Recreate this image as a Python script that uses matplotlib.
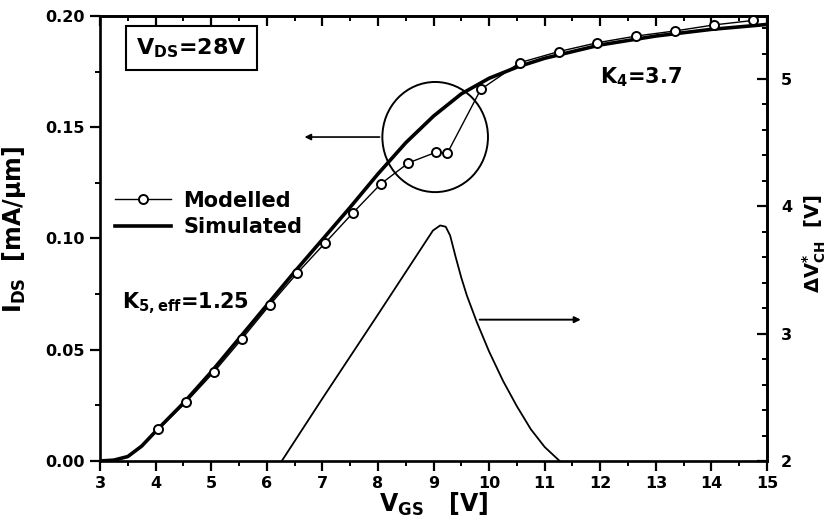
import numpy as np
import matplotlib
matplotlib.use("Agg")
import matplotlib.pyplot as plt
from matplotlib.patches import Ellipse
from matplotlib.ticker import MultipleLocator

plt.rcParams['font.family'] = ['DejaVu Sans']
plt.rcParams['font.weight'] = 'bold'
plt.rcParams['mathtext.fontset'] = 'dejavusans'
plt.rcParams['mathtext.default'] = 'bf'


# Simulated drain current (thick line)
vgs_sim = [3.0, 3.25, 3.5, 3.75, 4.0, 4.5, 5.0, 5.5, 6.0, 6.5, 7.0, 7.5, 8.0,
           8.5, 9.0, 9.5, 10.0, 10.5, 11.0, 11.5, 12.0, 13.0, 14.0, 15.0]
ids_sim = [0.0, 0.0004, 0.002, 0.0067, 0.0133, 0.026, 0.040, 0.055, 0.070,
           0.085, 0.0995, 0.114, 0.129, 0.143, 0.155, 0.165, 0.172, 0.177,
           0.181, 0.184, 0.187, 0.191, 0.194, 0.1962]

# Modelled drain current (open circles)
vgs_mod = [4.05, 4.55, 5.05, 5.55, 6.05, 6.55, 7.05, 7.55, 8.05, 8.55, 9.05,
           9.25, 9.85, 10.55, 11.25, 11.95, 12.65, 13.35, 14.05, 14.75]
ids_mod = [0.0144, 0.0265, 0.040, 0.0548, 0.070, 0.0845, 0.098, 0.1115,
           0.1245, 0.134, 0.1388, 0.1384, 0.167, 0.179, 0.184, 0.188, 0.191,
           0.1933, 0.196, 0.198]

# Delta V*_CH on the right axis
vgs_dv = [6.27, 7.0, 8.0, 8.99, 9.12, 9.22, 9.3, 9.4, 9.5, 9.6, 9.78,
          10.0, 10.25, 10.5, 10.75, 11.0, 11.27]
dv_ch = [2.0, 2.49, 3.15, 3.81, 3.85, 3.84, 3.77, 3.60, 3.44, 3.30, 3.09,
         2.86, 2.63, 2.43, 2.25, 2.11, 2.0]


fig = plt.figure(figsize=(8.35, 5.23), dpi=100)
ax = fig.add_axes([100 / 835, 1 - 461 / 523, 667 / 835, 445 / 523])

ax.plot(vgs_sim, ids_sim, color='black', lw=2.6, label='Simulated', zorder=3)
ax.plot(vgs_mod, ids_mod, color='black', lw=1.0, marker='o', ms=6.5,
        mfc='white', mec='black', mew=1.4, label='Modelled', zorder=4)

ax.set_xlim(3, 15)
ax.set_ylim(0, 0.20)
ax.xaxis.set_major_locator(MultipleLocator(1))
ax.xaxis.set_minor_locator(MultipleLocator(0.5))
ax.yaxis.set_major_locator(MultipleLocator(0.05))
ax.yaxis.set_minor_locator(MultipleLocator(0.025))
ax.yaxis.set_major_formatter(matplotlib.ticker.FormatStrFormatter('%.2f'))
ax.tick_params(which='major', direction='out', length=7, width=1.6,
               labelsize=11.5, pad=4)
ax.tick_params(which='minor', direction='out', length=3.5, width=1.4)
for s in ax.spines.values():
    s.set_linewidth(1.9)

top = ax.secondary_xaxis('top')
top.xaxis.set_major_locator(MultipleLocator(1))
top.xaxis.set_minor_locator(MultipleLocator(0.5))
top.tick_params(which='major', direction='in', length=7, width=1.6, labeltop=False)
top.tick_params(which='minor', direction='in', length=3.5, width=1.4)
top.spines['top'].set_linewidth(1.9)

ax2 = ax.twinx()
ax2.plot(vgs_dv, dv_ch, color='black', lw=1.3)
ax2.set_ylim(2, 5.495)
ax2.yaxis.set_major_locator(MultipleLocator(1))
ax2.yaxis.set_minor_locator(MultipleLocator(0.2))
ax2.tick_params(which='major', direction='in', length=7, width=1.6,
                labelsize=11.5, pad=10)
ax2.tick_params(which='minor', direction='in', length=3.5, width=1.4)
ax2.spines['right'].set_linewidth(1.9)

ax.set_xlabel(r'$V_{GS}$   [V]', fontsize=17, fontweight='bold')
ax.xaxis.set_label_coords(0.5, -0.068)
ax.set_ylabel(r'$I_{DS}$  [mA/$\mu$m]', fontsize=17, fontweight='bold')
ax.yaxis.set_label_coords(-0.108, 0.52)
ax2.set_ylabel(r'$\Delta V^{*}_{CH}$  [V]', fontsize=14, fontweight='bold')
ax2.yaxis.set_label_coords(1.05, 0.49)

# circle around the kink and the arrows pointing to the axes
ax.add_patch(Ellipse((9.03, 0.1456), 1.9, 0.0495, fill=False, lw=1.4,
                     color='black', zorder=5))
ax.annotate('', xy=(6.63, 0.1456), xytext=(8.08, 0.1456),
            arrowprops=dict(arrowstyle='-|>', color='black', lw=1.2,
                            mutation_scale=9))
ax2.annotate('', xy=(11.7, 3.11), xytext=(9.78, 3.11),
             arrowprops=dict(arrowstyle='-|>', color='black', lw=1.4,
                             mutation_scale=9))

ax.text(4.65, 0.1855, r'$V_{DS}$=28V', fontsize=16, fontweight='bold',
        ha='center', va='center',
        bbox=dict(boxstyle='square,pad=0.45', fc='white', ec='black', lw=1.5))
ax.text(3.4, 0.071, r'$K_{5,eff}$=1.25', fontsize=15, fontweight='bold',
        va='center')
ax.text(12.0, 0.1727, r'$K_{4}$=3.7', fontsize=15, fontweight='bold',
        va='center')

handles, labels = ax.get_legend_handles_labels()
leg = ax.legend(handles[::-1], labels[::-1], loc='upper left',
                bbox_to_anchor=(0.0, 0.64), frameon=False, fontsize=15,
                handlelength=2.7, handletextpad=0.6, labelspacing=0.3,
                borderaxespad=0.3)
for t in leg.get_texts():
    t.set_fontweight('bold')

fig.savefig('out.png', dpi=100)
